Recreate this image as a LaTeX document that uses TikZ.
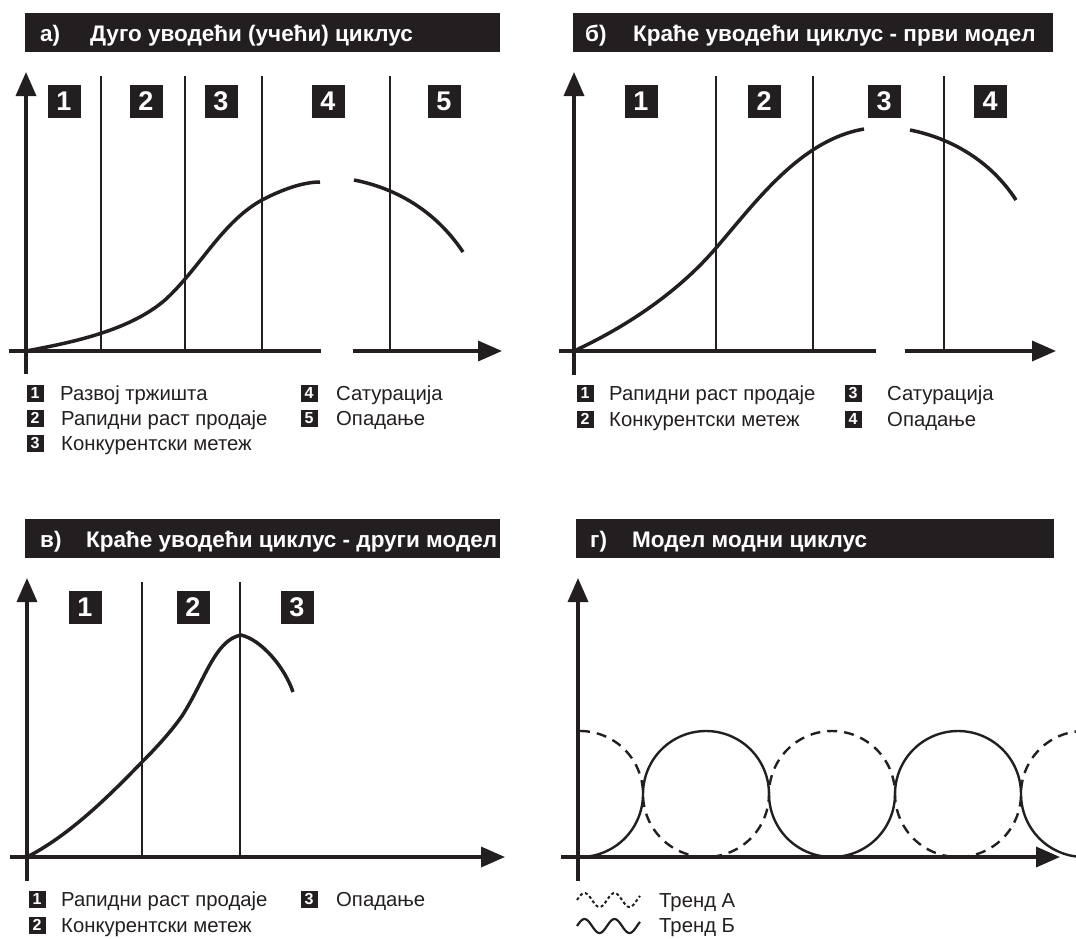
\documentclass[tikz,border=0pt]{standalone}
\usepackage{fontspec}
\setmainfont{Liberation Sans}
\usetikzlibrary{arrows.meta}
\definecolor{ink}{HTML}{231F20}
\tikzset{
  axisarrow/.style={line width=3.5pt, draw=ink, -{Triangle[length=24pt,width=20pt]}},
  axisline/.style={line width=3.5pt, draw=ink},
  divider/.style={line width=2pt, draw=ink},
  curve/.style={line width=3.5pt, draw=ink, line cap=butt},
  wave/.style={line width=2.4pt, draw=ink},
  titlebar/.style={fill=ink, draw=none, inner sep=0pt, minimum height=39pt, anchor=north west},
  titletext/.style={text=white, font=\fontsize{22.5}{27}\selectfont\bfseries, anchor=base west, inner sep=0pt},
  numbox/.style={fill=ink, text=white, minimum size=33pt, inner sep=0pt, font=\fontsize{27}{27}\selectfont\bfseries},
  legbox/.style={fill=ink, text=white, minimum size=17pt, inner sep=0pt, font=\fontsize{16}{16}\selectfont\bfseries},
  legtext/.style={anchor=base west, inner sep=0pt, text=ink, font=\fontsize{20.3}{24}\selectfont},
  halfarc/.style={domain=#1, samples=40, smooth},
}
\begin{document}
\begin{tikzpicture}[x=1pt,y=-1pt]
\useasboundingbox (0,0) rectangle (1076,938);

% ---------------- a) ----------------
\node[titlebar, minimum width=475pt] (ta) at (25,13) {};
\node[titletext] (tal) at (40,41) {а)};
\node[titletext] (tat) at (90,41) {Дуго уводећи (учећи) циклус};

\coordinate (aYb) at (26,374);
\coordinate (aYt) at (26,72);
\coordinate (aXl) at (9,351);
\coordinate (aXm) at (321,351);
\coordinate (aXn) at (353,351);
\coordinate (aXr) at (502,351);
\draw[axisarrow] (aYb) -- (aYt);
\draw[axisline] (aXl) -- (aXm);
\draw[axisarrow] (aXn) -- (aXr);
\foreach \x in {101,185,262,390} \draw[divider] (\x,76) -- (\x,351);
\node[numbox] (a1) at (64,101) {1};
\node[numbox] (a2) at (146,101) {2};
\node[numbox] (a3) at (221,101) {3};
\node[numbox] (a4) at (328,101) {4};
\node[numbox] (a5) at (444,101) {5};
\draw[curve] (26,351) .. controls (75,342) and (130,330) .. (165,300)
             .. controls (200,268) and (222,222) .. (262,200)
             .. controls (285,188) and (305,182) .. (320,182);
\draw[curve] (354,180) .. controls (395,188) and (435,210) .. (463,252);

\node[legbox] (la1) at (35,393) {1};
\node[legtext] (lat1) at (60,400) {Развој тржишта};
\node[legbox] (la2) at (35,418) {2};
\node[legtext] (lat2) at (61,425) {Рапидни раст продаје};
\node[legbox] (la3) at (35,443) {3};
\node[legtext] (lat3) at (61,450) {Конкурентски метеж};
\node[legbox] (la4) at (309,393) {4};
\node[legtext] (lat4) at (336,400) {Сатурација};
\node[legbox] (la5) at (309,418) {5};
\node[legtext] (lat5) at (336,425) {Опадање};

% ---------------- б) ----------------
\node[titlebar, minimum width=480pt] (tb) at (573,13) {};
\node[titletext] (tbl) at (585,41) {б)};
\node[titletext] (tbt) at (633,41) {Краће уводећи циклус - први модел};

\coordinate (bYb) at (574,375);
\coordinate (bYt) at (574,72);
\coordinate (bXl) at (559,351);
\coordinate (bXm) at (876,351);
\coordinate (bXn) at (905,351);
\coordinate (bXr) at (1056,351);
\draw[axisarrow] (bYb) -- (bYt);
\draw[axisline] (bXl) -- (bXm);
\draw[axisarrow] (bXn) -- (bXr);
\foreach \x in {716,813,944} \draw[divider] (\x,76) -- (\x,351);
\node[numbox] (b1) at (641,101) {1};
\node[numbox] (b2) at (764,101) {2};
\node[numbox] (b3) at (884,101) {3};
\node[numbox] (b4) at (990,101) {4};
\draw[curve] (574,351) .. controls (630,325) and (680,290) .. (716,248)
             .. controls (755,203) and (800,140) .. (864,129);
\draw[curve] (910,130) .. controls (950,138) and (990,160) .. (1016,200);

\node[legbox] (lb1) at (585,393) {1};
\node[legtext] (lbt1) at (609,400) {Рапидни раст продаје};
\node[legbox] (lb2) at (585,419) {2};
\node[legtext] (lbt2) at (609,426) {Конкурентски метеж};
\node[legbox] (lb3) at (853,393) {3};
\node[legtext] (lbt3) at (887,400) {Сатурација};
\node[legbox] (lb4) at (853,419) {4};
\node[legtext] (lbt4) at (887,426) {Опадање};

% ---------------- в) ----------------
\node[titlebar, minimum width=475pt] (tc) at (25,519) {};
\node[titletext] (tcl) at (40,547) {в)};
\node[titletext] (tct) at (86,547) {Краће уводећи циклус - други модел};

\coordinate (cYb) at (27,881);
\coordinate (cYt) at (27,578);
\coordinate (cXl) at (10,857);
\coordinate (cXr) at (505,857);
\draw[axisarrow] (cYb) -- (cYt);
\draw[axisarrow] (cXl) -- (cXr);
\foreach \x in {142,240} \draw[divider] (\x,582) -- (\x,857);
\node[numbox] (c1) at (85,607) {1};
\node[numbox] (c2) at (193,607) {2};
\node[numbox] (c3) at (297,607) {3};
\draw[curve] (27,857) .. controls (70,835) and (110,795) .. (142,762)
             .. controls (160,744) and (172,730) .. (182,716)
             .. controls (205,680) and (215,640) .. (241,635)
             .. controls (262,640) and (285,668) .. (293,692);

\node[legbox] (lc1) at (37,899) {1};
\node[legtext] (lct1) at (61,906) {Рапидни раст продаје};
\node[legbox] (lc2) at (37,925) {2};
\node[legtext] (lct2) at (61,932) {Конкурентски метеж};
\node[legbox] (lc3) at (309,899) {3};
\node[legtext] (lct3) at (336,906) {Опадање};

% ---------------- г) ----------------
\node[titlebar, minimum width=478pt] (td) at (576,519) {};
\node[titletext] (tdl) at (590,547) {г)};
\node[titletext] (tdt) at (632,547) {Модел модни циклус};

% two waves built from half circles of radius 63 centred on y=794
\begin{scope}
  \clip (576,700) rectangle (1076,875);
  % Trend B (solid)
  \draw[wave]
    plot[halfarc=270:360] ({580+63*cos(\x)},{794-63*sin(\x)})
    -- plot[halfarc=180:0] ({706+63*cos(\x)},{794-63*sin(\x)})
    -- plot[halfarc=180:360] ({832+63*cos(\x)},{794-63*sin(\x)})
    -- plot[halfarc=180:0] ({958+63*cos(\x)},{794-63*sin(\x)})
    -- plot[halfarc=180:270] ({1084+63*cos(\x)},{794-63*sin(\x)});
  % Trend A (dashed)
  \draw[wave, dash pattern=on 10pt off 7pt]
    plot[halfarc=90:0] ({580+63*cos(\x)},{794-63*sin(\x)})
    -- plot[halfarc=180:360] ({706+63*cos(\x)},{794-63*sin(\x)})
    -- plot[halfarc=180:0] ({832+63*cos(\x)},{794-63*sin(\x)})
    -- plot[halfarc=180:360] ({958+63*cos(\x)},{794-63*sin(\x)})
    -- plot[halfarc=180:90] ({1084+63*cos(\x)},{794-63*sin(\x)});
\end{scope}

\coordinate (dYb) at (578,881);
\coordinate (dYt) at (578,578);
\coordinate (dXl) at (561,857);
\coordinate (dXr) at (1060,857);
\draw[axisarrow] (dYb) -- (dYt);
\draw[axisarrow] (dXl) -- (dXr);

\draw[line width=2pt, draw=ink, dash pattern=on 3pt off 2.5pt]
  plot[domain=577:640, samples=60, smooth] (\x,{900-7*sin(12*(\x-577))});
\draw[line width=2.2pt, draw=ink]
  plot[domain=577:640, samples=60, smooth] (\x,{926-7*sin(12*(\x-577))});
\node[legtext] (ldt1) at (659,907) {Тренд А};
\node[legtext] (ldt2) at (659,932) {Тренд Б};
\end{tikzpicture}
\end{document}
